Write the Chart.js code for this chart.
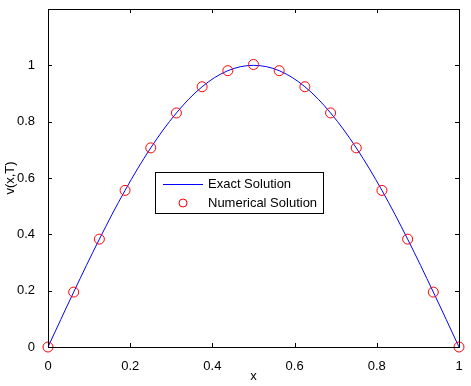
<!DOCTYPE html>
<html>
<head>
<meta charset="utf-8">
<script src="https://cdn.jsdelivr.net/npm/chart.js@4"></script>
<style>
  html, body { margin: 0; padding: 0; background: #fff; }
  #wrap { width: 471px; height: 386px; }
</style>
</head>
<body>
<div id="wrap"><canvas id="c"></canvas></div>
<script>
// grid points x = 0 .. 1 (step 1/16)
const xPoints = [0, 0.0625, 0.125, 0.1875, 0.25, 0.3125, 0.375, 0.4375, 0.5,
                 0.5625, 0.625, 0.6875, 0.75, 0.8125, 0.875, 0.9375, 1];
// exact solution
const exactValues = [0, 0.195, 0.383, 0.556, 0.707, 0.831, 0.924, 0.981, 1.0,
                     0.981, 0.924, 0.831, 0.707, 0.556, 0.383, 0.195, 0];
// numerical solution (red circles)
const numericalValues = [0, 0.195, 0.383, 0.556, 0.707, 0.831, 0.924, 0.981, 1.003,
                         0.981, 0.924, 0.831, 0.707, 0.556, 0.383, 0.195, 0];
const xTicks = [0, 0.2, 0.4, 0.6, 0.8, 1];
const yTicks = [0, 0.2, 0.4, 0.6, 0.8, 1];

const FONT = 'Liberation Sans, Arial, sans-serif';

// matlab style box, inward ticks, axis titles and legend
const boxPlugin = {
    id: 'box',
    afterDraw(chart) {
        const { ctx, chartArea: a, scales } = chart;
        ctx.save();
        ctx.strokeStyle = '#000';
        ctx.lineWidth = 1;
        ctx.strokeRect(a.left + 0.5, a.top + 0.5, a.right - a.left, a.bottom - a.top);
        const len = 4;
        ctx.beginPath();
        xTicks.forEach(v => {
            const px = Math.round(scales.x.getPixelForValue(v)) + 0.5;
            ctx.moveTo(px, a.bottom); ctx.lineTo(px, a.bottom - len);
            ctx.moveTo(px, a.top); ctx.lineTo(px, a.top + len);
        });
        yTicks.forEach(v => {
            const py = Math.round(scales.y.getPixelForValue(v)) + 0.5;
            ctx.moveTo(a.left, py); ctx.lineTo(a.left + len, py);
            ctx.moveTo(a.right, py); ctx.lineTo(a.right - len, py);
        });
        ctx.stroke();

        // axis titles
        ctx.font = '13px ' + FONT;
        ctx.fillStyle = '#000';
        ctx.textAlign = 'center';
        ctx.textBaseline = 'middle';
        ctx.fillText('x', (a.left + a.right) / 2, 376);
        ctx.save();
        ctx.translate(10, (a.top + a.bottom) / 2);
        ctx.rotate(-Math.PI / 2);
        ctx.fillText('v(x,T)', 0, 0);
        ctx.restore();

        // legend box inside plot
        const lx = a.left + 107, ly = a.top + 163, lw = 168, lh = 41;
        ctx.fillStyle = '#fff';
        ctx.fillRect(lx, ly, lw, lh);
        ctx.strokeRect(lx + 0.5, ly + 0.5, lw, lh);
        ctx.fillStyle = '#000';
        ctx.textAlign = 'left';
        ctx.fillText('Exact Solution', lx + 53, ly + 12);
        ctx.fillText('Numerical Solution', lx + 53, ly + 31);
        ctx.strokeStyle = '#0000ff';
        ctx.beginPath();
        ctx.moveTo(lx + 8, ly + 12.5); ctx.lineTo(lx + 48, ly + 12.5);
        ctx.stroke();
        ctx.strokeStyle = '#ff0000';
        ctx.beginPath();
        ctx.arc(lx + 28, ly + 31, 4, 0, Math.PI * 2);
        ctx.stroke();
        ctx.restore();
    }
};

new Chart(document.getElementById('c'), {
    type: 'scatter',
    data: {
        datasets: [{
            label: 'Numerical Solution',
            data: xPoints.map((x, i) => ({ x: x, y: numericalValues[i] })),
            showLine: false,
            clip: false,
            pointRadius: 5,
            pointBackgroundColor: 'rgba(0,0,0,0)',
            pointBorderColor: '#ff0000',
            pointBorderWidth: 1
        }, {
            label: 'Exact Solution',
            data: xPoints.map((x, i) => ({ x: x, y: exactValues[i] })),
            showLine: true,
            borderColor: '#0000ff',
            borderWidth: 1,
            tension: 0.35,
            pointRadius: 0
        }]
    },
    options: {
        responsive: true,
        maintainAspectRatio: false,
        animation: false,
        layout: { padding: { top: 9, right: 12, left: 0, bottom: 0 } },
        scales: {
            x: {
                type: 'linear',
                min: 0, max: 1,
                afterBuildTicks: s => { s.ticks = xTicks.map(v => ({ value: v })); },
                afterFit: s => { s.height = 39; s.paddingLeft = 0; s.paddingRight = 0; },
                grid: { display: false },
                border: { display: false },
                ticks: {
                    color: '#000', padding: 4,
                    font: { family: FONT, size: 13 },
                    callback: v => String(Math.round(v * 10) / 10)
                }
            },
            y: {
                type: 'linear',
                min: 0, max: 1.2,
                afterBuildTicks: s => { s.ticks = yTicks.map(v => ({ value: v })); },
                afterFit: s => { s.width = 48; s.paddingTop = 0; s.paddingBottom = 0; },
                grid: { display: false },
                border: { display: false },
                ticks: {
                    color: '#000', padding: 5,
                    font: { family: FONT, size: 13 },
                    callback: v => String(Math.round(v * 10) / 10)
                }
            }
        },
        plugins: {
            legend: { display: false },
            tooltip: { enabled: false }
        }
    },
    plugins: [boxPlugin]
});
</script>
</body>
</html>
